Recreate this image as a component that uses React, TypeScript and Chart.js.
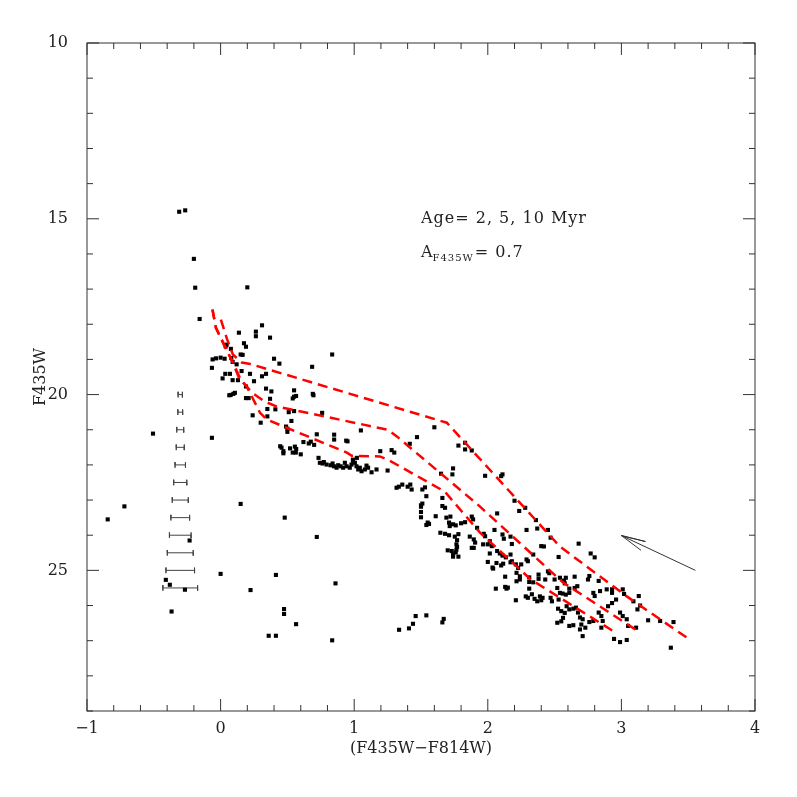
import React, { useEffect, useRef } from 'react';
import { Chart, registerables } from 'chart.js';
Chart.register(...registerables);

// ---- Stars: colour (F435W-F814W) and magnitude F435W ----
const starColor = [
  -0.31, -0.265, -0.2, -0.19, 0.2, -0.157, 0.31, 0.137, 0.264, 0.264, 0.37, 0.045, 0.038, 0.175, 0.19, 0.077, 0.15, 0.165, 0.4, 0.44,
  -0.06, -0.035, 0.0, 0.03, -0.065, 0.08, 0.09, 0.12, 0.22, 0.31, 0.34, 0.035, 0.07, 0.015, 0.09, 0.13, 0.157, 0.25, 0.19, 0.34,
  0.835, 0.685, 0.38, 0.55, 0.55, 0.565, 0.54, 0.69, 0.695, 0.075, 0.095, 0.107, 0.065, 0.19, 0.21, 0.37, 0.35, 0.41, 0.51, 0.55,
  0.76, 0.24, 0.35, 0.53, 0.3, 0.49, 0.5, 0.5, 0.72, 0.85, 0.85, 0.62, 0.66, 0.675, 0.7, 0.94, 0.95, 1.05, -0.065, 0.446,
  0.456, 0.47, 0.47, 0.52, 0.556, 0.566, 0.54, 0.563, 0.6,
  0.733, 0.743, 0.763, 0.773, 0.793, 0.823, 0.838, 0.848, 0.868, 0.88, 0.898, 0.917, 0.93, 0.943, 0.967, 0.98, 0.992, 1.005, 1.017, 1.03,
  1.042, 1.055, 1.08, 1.092, 1.104, 1.13, 1.167, 1.02, 0.99,
  1.195, 1.28, 1.3, 1.47, 1.416, 1.6, 1.78, 1.83, 1.83, 1.88, 1.98, 2.11, 2.1, 2.2, 2.235, 2.28, 2.07, 1.65, 1.74, 1.735,
  2.29, 0.86, 1.25, 1.317, 1.334, 1.36, 1.4, 1.42, 1.43, 1.51, 1.53, 1.54, 1.5, 1.5, 1.51, 1.5, 1.5, 1.55, 1.56, 1.54,
  1.61, 1.66, 1.66, 1.68, 1.69, 1.72, 1.71, 1.74, 1.715, 1.76, 1.8, 1.83, 1.88, 1.89, 1.645, 1.68, 1.71, 1.753, 1.78, 1.77,
  1.765, 1.77, 1.765, 1.7, 1.73, 1.74, 1.76, 1.78, 1.74, 1.865, 1.895, 1.905, 1.88, 1.895, 1.92, 1.97, 1.98, 2.0, 2.03, 2.05,
  2.11, 2.12,
  2.015, 2.07, 2.09, 2.11, 2.065, 2.115, 2.18, 2.17, 2.0, 2.035, 2.06, 2.13, 2.14, 2.215, 2.25, 2.29, 2.24, 2.215, 2.36, 2.37,
  2.45, 2.17, 2.18, 1.965, 2.015, 2.47, 2.4, 2.42, 2.68, 2.53, 2.77, 2.8, 2.135, 2.04, 2.1, 2.17, 2.21, 2.227, 2.3, 2.34,
  2.31, 2.31, 2.24, 2.13, 2.15, 2.21, 2.31, 2.33, 2.284, 2.3, 2.35, 2.39, 2.37, 2.4, 2.41, 2.34, 2.38, 2.38, 2.45, 2.46,
  2.43, 2.5, 2.52, 2.47, 2.48, 2.53, 2.54, 2.57, 2.576, 2.584, 2.54, 2.56, 2.584, 2.61, 2.61, 2.65, 2.67, 2.65, 2.526, 2.55,
  2.576, 2.563, 2.55, 2.52,
  2.59, 2.61, 2.64, 2.66, 2.675, 2.69, 2.71, 2.7, 2.69, 2.73, 2.76, 2.79, 2.83, 2.85, 2.86, 2.85, 2.9, 2.93, 2.96, 2.99,
  3.01, 3.04, 3.05, 3.11, 3.14, 3.13, 3.2, 3.29, 3.39, 3.37, 2.945, 2.99, 3.04, 2.75, 2.76, 2.79, 2.8, 2.83, 2.84, 2.89,
  2.93, 2.93, 3.01, 3.02, 3.09, 3.12, 2.71, 2.61, 2.64,
  -0.506, -0.72, -0.845, 0.15, -0.232, 0.0, 0.414, -0.41, -0.38, -0.267, 0.224, -0.367, 0.72, 0.48, 0.475, 0.475, 0.565, 0.36, 0.414, 0.835,
  1.336, 1.41, 1.44, 1.46, 1.54, 1.66, 1.67,
];
const starMag = [
  14.8, 14.76, 16.14, 16.96, 16.95, 17.85, 18.03, 18.24, 18.21, 18.34, 18.38, 18.58, 18.63, 18.54, 18.64, 18.7, 18.86, 18.87, 18.98, 19.12,
  19.0, 18.97, 18.95, 18.98, 19.24, 18.96, 19.07, 19.14, 19.41, 19.48, 19.41, 19.41, 19.41, 19.54, 19.59, 19.59, 19.33, 19.62, 19.77, 19.83,
  18.86, 19.21, 19.91, 19.88, 20.06, 20.04, 20.11, 19.98, 20.02, 20.01, 19.98, 19.95, 20.02, 20.1, 20.1, 20.12, 20.41, 20.42, 20.5, 20.47,
  20.52, 20.59, 20.62, 20.75, 20.8, 20.91, 20.97, 21.06, 21.13, 21.14, 21.28, 21.35, 21.39, 21.34, 21.43, 21.31, 21.33, 21.02, 21.23, 21.47,
  21.51, 21.61, 21.67, 21.53, 21.48, 21.55, 21.65, 21.65, 21.7,
  21.8, 21.94, 21.96, 21.92, 21.99, 22.01, 21.96, 22.04, 22.08, 22.01, 22.04, 22.08, 21.94, 22.04, 22.08, 21.99, 21.9, 21.94, 22.04, 22.13,
  22.08, 22.18, 22.13, 22.02, 22.08, 22.21, 22.13, 21.8, 21.85,
  21.61, 21.58, 21.65, 21.21, 21.4, 20.93, 21.45, 21.37, 21.56, 21.59, 22.31, 22.27, 22.32, 23.02, 23.31, 23.22, 23.38, 22.25, 22.1, 22.27,
  23.85, 25.37, 22.16, 22.65, 22.62, 22.56, 22.62, 22.56, 22.7, 22.7, 22.64, 22.89, 23.15, 23.19, 23.1, 23.34, 23.49, 23.64, 23.68, 23.71,
  23.46, 22.94, 23.17, 23.22, 23.5, 23.47, 23.64, 23.69, 23.74, 23.72, 23.66, 23.63, 23.47, 23.55, 23.93, 23.96, 24.0, 24.04, 23.97, 24.14,
  24.26, 24.33, 24.41, 24.43, 24.45, 24.55, 24.49, 24.61, 24.61, 24.04, 24.12, 24.21, 24.36, 24.36, 23.79, 23.96, 24.03, 24.26, 24.31, 23.85,
  23.98, 24.1,
  24.52, 24.45, 24.52, 24.58, 24.79, 24.81, 24.74, 24.55, 24.76, 24.92, 25.52, 25.18, 25.52, 25.07, 24.83, 24.69, 25.26, 25.31, 23.57, 23.81,
  23.85, 24.04, 24.25, 24.26, 24.17, 24.07, 24.31, 24.32, 24.24, 24.62, 24.52, 24.63, 24.63, 24.95, 24.86, 24.77, 24.83, 24.93, 24.74, 24.55,
  25.2, 25.33, 25.17, 25.47, 25.49, 25.85, 25.52, 25.68, 25.74, 25.78, 25.81, 25.74, 25.88, 25.85, 25.78, 25.34, 25.24, 25.12, 25.03, 25.08,
  25.26, 25.26, 25.5, 25.78, 25.88, 25.83, 25.21, 25.29, 25.37, 25.21, 25.64, 25.66, 25.69, 25.64, 25.52, 25.5, 25.45, 25.18, 26.09, 26.16,
  26.21, 26.35, 26.45, 26.49,
  26.02, 26.11, 26.09, 26.06, 26.2, 26.34, 26.39, 26.54, 26.68, 26.63, 26.47, 26.44, 26.2, 26.3, 26.44, 26.63, 26.02, 25.93, 25.83, 26.2,
  26.3, 26.39, 26.58, 26.63, 26.0, 25.73, 26.42, 26.44, 26.47, 27.2, 26.95, 27.04, 26.98, 25.26, 25.16, 25.64, 25.73, 25.3, 25.59, 25.54,
  25.54, 25.64, 25.54, 25.67, 25.88, 26.11, 26.87, 26.58, 26.56,
  21.11, 23.18, 23.55, 23.11, 24.15, 25.1, 25.13, 25.27, 25.41, 25.55, 25.56, 26.17, 24.05, 23.5, 26.1, 26.24, 26.53, 26.86, 26.86, 26.99,
  26.69, 26.65, 26.52, 26.3, 26.28, 26.48, 26.38,
];

// ---- Isochrones (A_F435W = 0.7) ----
const isoTopColor = [0.002, 0.047, 0.092, 0.159, 0.212, 1.693, 1.768, 2.539, 3.04, 3.5];
const isoTopMag = [17.87, 18.41, 18.86, 19.09, 19.12, 20.8, 21.11, 24.32, 25.74, 26.94];
const isoMidColor = [-0.061, -0.035, 0.032, 0.092, 0.15, 0.234, 0.331, 0.421, 1.252, 1.319, 1.94, 2.561, 3.137];
const isoMidMag = [17.58, 18.1, 18.63, 19.09, 19.57, 19.94, 20.2, 20.34, 21.0, 21.19, 23.18, 25.34, 26.76];
const isoLowColor = [-0.061, -0.035, 0.032, 0.092, 0.137, 0.197, 0.257, 0.294, 0.346, 0.945, 0.982, 1.192, 1.252, 1.678, 1.94, 2.322, 2.965];
const isoLowMag = [17.58, 18.1, 18.63, 19.09, 19.52, 19.78, 20.23, 20.51, 20.71, 21.65, 21.74, 21.76, 21.85, 22.76, 23.92, 25.26, 26.79];

// ---- Photometric error bars ----
const errMag = [20, 20.5, 21, 21.5, 22, 22.5, 23, 23.5, 24, 24.5, 25, 25.5];
const errHalfWidth = [0.016, 0.018, 0.026, 0.03, 0.039, 0.049, 0.06, 0.07, 0.081, 0.097, 0.107, 0.13];
const errCenterColor = -0.302;
const errCapHalf = 0.08;

// ---- Reddening arrow ----
const arrowColor = [3.554, 3.0, 3.18, 3.0, 3.147];
const arrowMag = [25.0, 24.01, 24.18, 24.01, 24.43];

// ---- Axes ----
const xTicks = [-1, 0, 1, 2, 3, 4];
const yTicks = [10, 15, 20, 25];
const xMin = -1, xMax = 4, yMin = 10, yMax = 29;

const FONT = '"DejaVu Serif", serif';

const framePlugin = {
  id: 'frameTicks',
  afterDraw(chart: any) {
    const { ctx, chartArea: a, scales } = chart;
    const x = scales.x, y = scales.y;
    ctx.save();
    ctx.strokeStyle = '#333';
    ctx.lineWidth = 1;
    ctx.strokeRect(a.left, a.top, a.right - a.left, a.bottom - a.top);
    ctx.beginPath();
    for (let i = 0; i <= 25; i++) {
      const v = xMin + i * 0.2;
      const px = x.getPixelForValue(v);
      const len = i % 5 === 0 ? 12 : 6;
      ctx.moveTo(px, a.bottom); ctx.lineTo(px, a.bottom - len);
      ctx.moveTo(px, a.top); ctx.lineTo(px, a.top + len);
    }
    for (let v = yMin; v <= yMax; v++) {
      const py = y.getPixelForValue(v);
      const len = v % 5 === 0 ? 12 : 6;
      ctx.moveTo(a.left, py); ctx.lineTo(a.left + len, py);
      ctx.moveTo(a.right, py); ctx.lineTo(a.right - len, py);
    }
    ctx.stroke();

    // annotation text
    ctx.fillStyle = '#222';
    ctx.textBaseline = 'alphabetic';
    ctx.textAlign = 'left';
    try { (ctx as any).letterSpacing = '1px'; } catch (e) {}
    ctx.font = '16px ' + FONT;
    const tx = x.getPixelForValue(1.5);
    ctx.fillText('Age= 2, 5, 10 Myr', tx, y.getPixelForValue(15.11));
    const by = y.getPixelForValue(16.1);
    ctx.fillText('A', tx, by);
    let w = ctx.measureText('A').width;
    ctx.font = '10px ' + FONT;
    ctx.fillText('F435W', tx + w - 1, by + 4);
    w += ctx.measureText('F435W').width;
    ctx.font = '16px ' + FONT;
    ctx.fillText('= 0.7', tx + w, by);
    ctx.restore();
  },
};

export default function App() {
  const ref = useRef<HTMLCanvasElement>(null);
  useEffect(() => {
    if (!ref.current) return;
    const pts = (xs: number[], ys: number[]) => xs.map((v, i) => ({ x: v, y: ys[i] }));
    const isoStyle = {
      showLine: true, borderColor: '#ff0000', borderWidth: 2.5, borderDash: [10, 6],
      pointRadius: 0, fill: false, tension: 0, order: 1,
    };
    const errSets = errMag.map((m, i) => {
      const l = errCenterColor - errHalfWidth[i];
      const r = errCenterColor + errHalfWidth[i];
      return {
        data: [
          { x: l, y: m - errCapHalf }, { x: l, y: m + errCapHalf }, { x: l, y: m },
          { x: r, y: m }, { x: r, y: m - errCapHalf }, { x: r, y: m + errCapHalf },
        ],
        showLine: true, borderColor: '#444', borderWidth: 1, pointRadius: 0, order: 3,
      };
    });
    const chart = new Chart(ref.current, {
      type: 'scatter',
      data: {
        datasets: [
          { data: pts(isoTopColor, isoTopMag), ...isoStyle },
          { data: pts(isoMidColor, isoMidMag), ...isoStyle },
          { data: pts(isoLowColor, isoLowMag), ...isoStyle },
          {
            data: pts(starColor, starMag), pointStyle: 'rect', pointRadius: 2.9,
            backgroundColor: '#000', borderWidth: 0, order: 2,
          },
          ...errSets,
          {
            data: pts(arrowColor, arrowMag), showLine: true, borderColor: '#333',
            borderWidth: 1, pointRadius: 0, order: 3,
          },
        ] as any,
      },
      options: {
        responsive: false,
        animation: false,
        devicePixelRatio: 1,
        layout: { padding: { top: 43, right: 42, left: 0, bottom: 0 } },
        plugins: { legend: { display: false }, tooltip: { enabled: false } },
        scales: {
          x: {
            type: 'linear', position: 'bottom', min: xMin, max: xMax,
            afterBuildTicks: (s: any) => { s.ticks = xTicks.map((v) => ({ value: v })); },
            afterFit: (s: any) => { s.height = 86; },
            grid: { display: false }, border: { display: false },
            ticks: {
              autoSkip: false, maxRotation: 0, padding: 0, color: '#222',
              font: { family: FONT, size: 16 },
              callback: (v: any) => (v < 0 ? '\u2212' + Math.abs(v) : String(v)),
            },
            title: {
              display: true, text: '(F435W\u2212F814W)', color: '#222',
              font: { family: FONT, size: 16 }, padding: { top: 0, bottom: 39 },
            },
          },
          y: {
            type: 'linear', position: 'left', reverse: true, min: yMin, max: yMax,
            afterBuildTicks: (s: any) => { s.ticks = yTicks.map((v) => ({ value: v })); },
            afterFit: (s: any) => { s.width = 87; },
            grid: { display: false }, border: { display: false },
            ticks: {
              autoSkip: false, padding: 11, color: '#222',
              font: { family: FONT, size: 16 },
            },
            title: {
              display: true, text: 'F435W', color: '#222',
              font: { family: FONT, size: 16 }, padding: { top: 31, bottom: 0 },
            },
          },
        },
      } as any,
      plugins: [framePlugin],
    });
    return () => chart.destroy();
  }, []);
  return (
    <div style={{ position: 'fixed', left: 0, top: 0, width: 797, height: 797, background: '#fff' }}>
      <canvas ref={ref} width={797} height={797} style={{ display: 'block' }} />
    </div>
  );
}
